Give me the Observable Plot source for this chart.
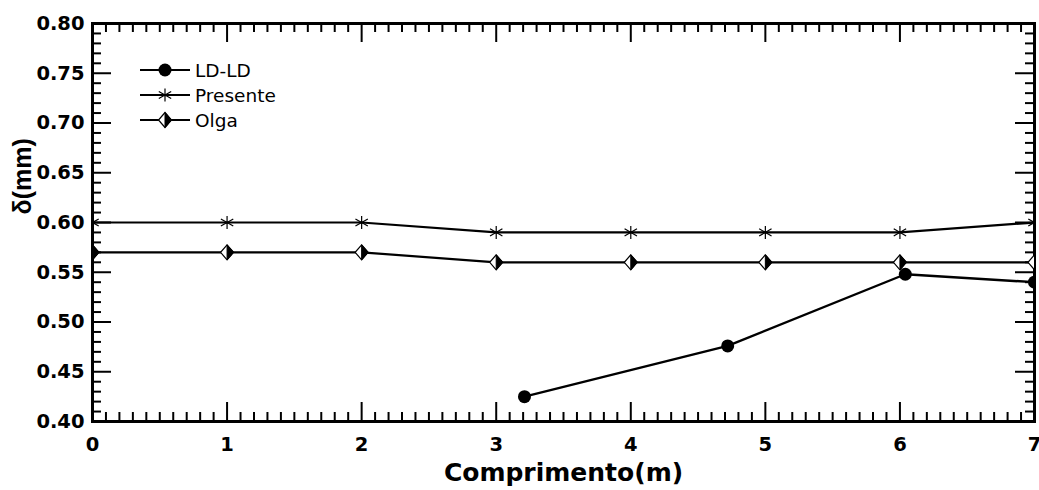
<!DOCTYPE html>
<html>
<head>
<meta charset="utf-8">
<script src="https://cdn.jsdelivr.net/npm/d3@7"></script>
<script src="https://cdn.jsdelivr.net/npm/@observablehq/plot@0.6"></script>
<style>
  html, body { margin: 0; padding: 0; background: white; }
</style>
</head>
<body>
<script>
// ---- data ----
const xPos = [0, 1, 2, 3, 4, 5, 6, 7];
const presente = [0.60, 0.60, 0.60, 0.59, 0.59, 0.59, 0.59, 0.60];
const olga = [0.57, 0.57, 0.57, 0.56, 0.56, 0.56, 0.56, 0.56];
const ldX = [3.21, 4.72, 6.04, 7.0];
const ldY = [0.425, 0.476, 0.548, 0.540];
const seriesNames = ["LD-LD", "Presente", "Olga"];
const xTicks = [0, 1, 2, 3, 4, 5, 6, 7];
const yTicks = [0.40, 0.45, 0.50, 0.55, 0.60, 0.65, 0.70, 0.75, 0.80];
const xLabel = "Comprimento(m)";
const yLabel = "δ(mm)";

const presenteData = xPos.map((x, i) => ({x, y: presente[i]}));
const olgaData = xPos.map((x, i) => ({x, y: olga[i]}));
const ldData = ldX.map((x, i) => ({x, y: ldY[i]}));

const xMinor = d3.range(0, 70.5, 1).map(d => d / 10).filter(d => Math.abs(d - Math.round(d)) > 1e-6);
const yMinor = d3.range(40, 80.5, 1).map(d => d / 100).filter(d => Math.abs(d * 20 - Math.round(d * 20)) > 1e-6);

// ---- layout ----
const W = 1039, H = 490;
const mL = 92, mR = 5, mT = 23, mB = 69;
const pw = W - mL - mR, ph = H - mT - mB;
const major = 19, minor = 9;

// ---- custom symbols ----
const asterisk6 = {draw(c) {
  c.moveTo(0, -6.5); c.lineTo(0, 6.5);
  c.moveTo(-6.2, -3.6); c.lineTo(6.2, 3.6);
  c.moveTo(-6.2, 3.6); c.lineTo(6.2, -3.6);
}};
const diamond = {draw(c) {
  c.moveTo(0, -7.5); c.lineTo(6.5, 0); c.lineTo(0, 7.5); c.lineTo(-6.5, 0); c.closePath();
}};
const halfDiamond = {draw(c) {
  c.moveTo(0, -7.5); c.lineTo(6.5, 0); c.lineTo(0, 7.5); c.closePath();
}};

const tickStyle = {stroke: "black", strokeWidth: 2};

const svg = Plot.plot({
  width: W, height: H,
  marginLeft: mL, marginRight: mR, marginTop: mT, marginBottom: mB,
  x: {domain: [0, 7], label: null},
  y: {domain: [0.4, 0.8], label: null},
  style: {fontFamily: "DejaVu Sans", fontSize: "19.5px", fontWeight: "bold", background: "white", color: "black"},
  marks: [
    // inward ticks, all four sides
    Plot.tickX(xTicks, {x: d => d, insetTop: ph - major, ...tickStyle}),
    Plot.tickX(xTicks, {x: d => d, insetBottom: ph - major, ...tickStyle}),
    Plot.tickX(xMinor, {x: d => d, insetTop: ph - minor, ...tickStyle}),
    Plot.tickX(xMinor, {x: d => d, insetBottom: ph - minor, ...tickStyle}),
    Plot.tickY(yTicks, {y: d => d, insetRight: pw - major, ...tickStyle}),
    Plot.tickY(yTicks, {y: d => d, insetLeft: pw - major, ...tickStyle}),
    Plot.tickY(yMinor, {y: d => d, insetRight: pw - minor, ...tickStyle}),
    Plot.tickY(yMinor, {y: d => d, insetLeft: pw - minor, ...tickStyle}),
    Plot.frame({stroke: "black", strokeWidth: 3}),
    // tick labels
    Plot.axisX({ticks: xTicks, tickSize: 0, tickPadding: 16, tickFormat: d3.format("d")}),
    Plot.axisY({ticks: yTicks, tickSize: 0, tickPadding: 8, tickFormat: d3.format(".2f")}),
    // axis titles
    Plot.text([xLabel], {text: d => d, frameAnchor: "bottom", dy: 51, lineAnchor: "middle",
      fontFamily: "DejaVu Sans", fontSize: 25, fontWeight: "bold"}),
    Plot.text([yLabel], {text: d => d, frameAnchor: "left", dx: -70, dy: -8, rotate: -90, lineAnchor: "middle",
      fontFamily: "Liberation Sans", fontSize: 25, fontWeight: "bold"}),
    // series lines
    Plot.line(presenteData, {x: "x", y: "y", stroke: "black", strokeWidth: 2.2, clip: true}),
    Plot.line(olgaData, {x: "x", y: "y", stroke: "black", strokeWidth: 2.2, clip: true}),
    Plot.line(ldData, {x: "x", y: "y", stroke: "black", strokeWidth: 2.4, clip: true}),
    // markers
    Plot.dot(presenteData, {x: "x", y: "y", symbol: asterisk6, fill: "none", stroke: "black", strokeWidth: 1.2, clip: true}),
    Plot.dot(olgaData, {x: "x", y: "y", symbol: diamond, fill: "white", stroke: "black", strokeWidth: 1.2, clip: true}),
    Plot.dot(olgaData, {x: "x", y: "y", symbol: halfDiamond, fill: "black", stroke: "black", strokeWidth: 1, clip: true}),
    Plot.dot(ldData, {x: "x", y: "y", symbol: "circle", r: 6.5, fill: "black", stroke: "none", clip: true})
  ]
});

// ---- legend (inside plot, top-left) ----
const lg = d3.select(svg).append("g").attr("class", "legend").attr("text-anchor", "start");
const rowsY = [70, 95, 120];
const lx0 = 140, lx1 = 190, lmx = 165, ltx = 195;
seriesNames.forEach((name, i) => {
  const y = rowsY[i];
  lg.append("line").attr("x1", lx0).attr("x2", lx1).attr("y1", y).attr("y2", y)
    .attr("stroke", "black").attr("stroke-width", 2.2);
  const t = `translate(${lmx},${y})`;
  if (i === 0) {
    lg.append("circle").attr("cx", lmx).attr("cy", y).attr("r", 6.5).attr("fill", "black");
  } else if (i === 1) {
    const p = d3.path(); asterisk6.draw(p);
    lg.append("path").attr("d", p.toString()).attr("transform", t)
      .attr("fill", "none").attr("stroke", "black").attr("stroke-width", 1.2);
  } else {
    const p1 = d3.path(); diamond.draw(p1);
    lg.append("path").attr("d", p1.toString()).attr("transform", t)
      .attr("fill", "white").attr("stroke", "black").attr("stroke-width", 1.2);
    const p2 = d3.path(); halfDiamond.draw(p2);
    lg.append("path").attr("d", p2.toString()).attr("transform", t)
      .attr("fill", "black").attr("stroke", "black").attr("stroke-width", 1);
  }
  lg.append("text").attr("x", ltx).attr("y", y).attr("dy", "0.36em")
    .attr("text-anchor", "start")
    .attr("font-family", "DejaVu Sans").attr("font-size", 18.5).attr("font-weight", "normal")
    .attr("fill", "black").text(name);
});

document.body.appendChild(svg);
</script>
</body>
</html>
